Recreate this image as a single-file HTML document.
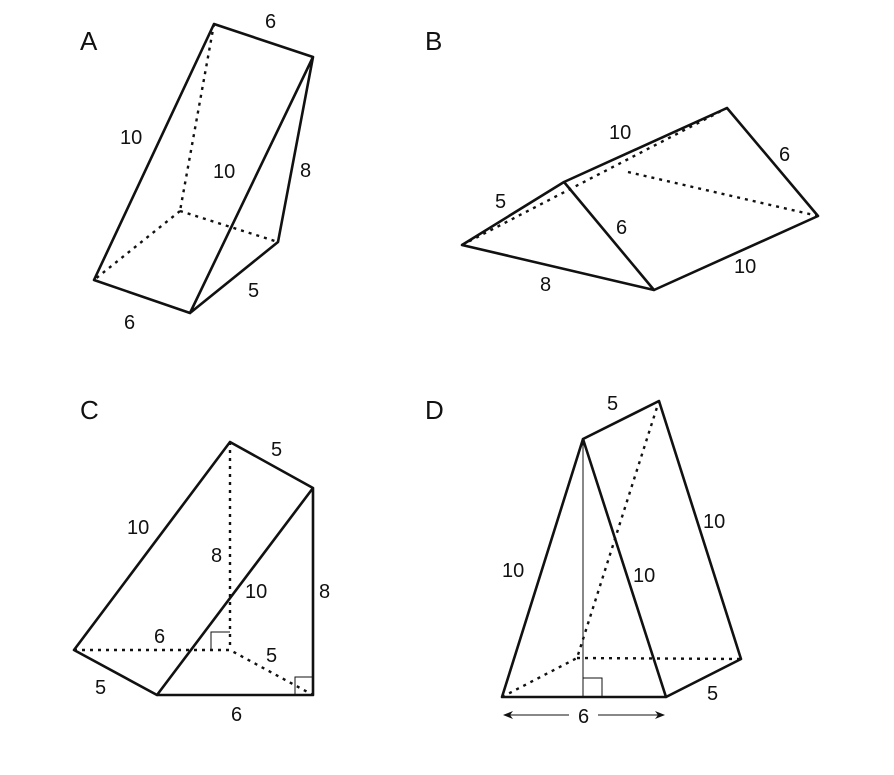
<!DOCTYPE html>
<html><head><style>
body{margin:0;background:#fff;}
svg text{font-family:"Liberation Sans",sans-serif;font-size:20px;fill:#111;}
</style></head><body>
<svg width="894" height="770" viewBox="0 0 894 770" xmlns="http://www.w3.org/2000/svg">
<defs>
<marker id="ar" markerWidth="10" markerHeight="8" refX="9" refY="4" orient="auto"><path d="M0,0 L10,4 L0,8 L3,4 Z" fill="#111"/></marker>
</defs>
<g stroke="#111" stroke-width="2.6" fill="none" stroke-linejoin="round" stroke-linecap="round">
<!-- A -->
<path d="M214,24 L313,57 L278,242 L190,313 L94,280 Z M190,313 L313,57"/>
<g stroke-dasharray="3,5" stroke-width="2.4" stroke-linecap="butt"><path d="M214,24 L180,211 M180,211 L94,280 M180,211 L278,242"/></g>
<!-- B -->
<path d="M462,245 L564,182 L727,108 L818,216 L654,290 Z M564,182 L654,290"/>
<g stroke-dasharray="3,5" stroke-width="2.4" stroke-linecap="butt"><path d="M462,245 L727,108 M628,172 L818,216"/></g>
<!-- C -->
<path d="M230,442 L313,488 L313,695 L157,695 L74,650 Z M313,488 L157,695"/>
<g stroke-dasharray="3,5" stroke-width="2.4" stroke-linecap="butt"><path d="M230,442 L230,650 M74,650 L230,650 L313,695"/></g>
<!-- D -->
<path d="M583,439 L659,401 L741,659 L666,697 L502,697 Z M583,439 L666,697"/>
<g stroke-dasharray="3,5" stroke-width="2.4" stroke-linecap="butt"><path d="M502,697 L577,658 L659,401 M577,658 L741,659"/></g>
</g>
<g stroke="#111" stroke-width="1" fill="none">
<path d="M211,650 V632 H230 M295,695 V677 H313"/>
<path d="M583,439 V697 M583,678 H602 V697"/>
<path d="M569,715 H504" marker-end="url(#ar)"/>
<path d="M598,715 H664" marker-end="url(#ar)"/>
</g>
<g>
<text x="80" y="50" style="font-size:26px">A</text>
<text x="425" y="50" style="font-size:26px">B</text>
<text x="80" y="419" style="font-size:26px">C</text>
<text x="425" y="419" style="font-size:26px">D</text>
<text x="265" y="28">6</text><text x="120" y="144">10</text><text x="213" y="178">10</text>
<text x="300" y="177">8</text><text x="248" y="297">5</text><text x="124" y="329">6</text>
<text x="609" y="139">10</text><text x="779" y="161">6</text><text x="495" y="208">5</text>
<text x="616" y="234">6</text><text x="734" y="273">10</text><text x="540" y="291">8</text>
<text x="271" y="456">5</text><text x="127" y="534">10</text><text x="211" y="562">8</text>
<text x="245" y="598">10</text><text x="319" y="598">8</text><text x="154" y="643">6</text>
<text x="266" y="662">5</text><text x="95" y="694">5</text><text x="231" y="721">6</text>
<text x="607" y="410">5</text><text x="703" y="528">10</text><text x="502" y="577">10</text>
<text x="633" y="582">10</text><text x="707" y="700">5</text><text x="578" y="723">6</text>
</g>
</svg>
</body></html>
